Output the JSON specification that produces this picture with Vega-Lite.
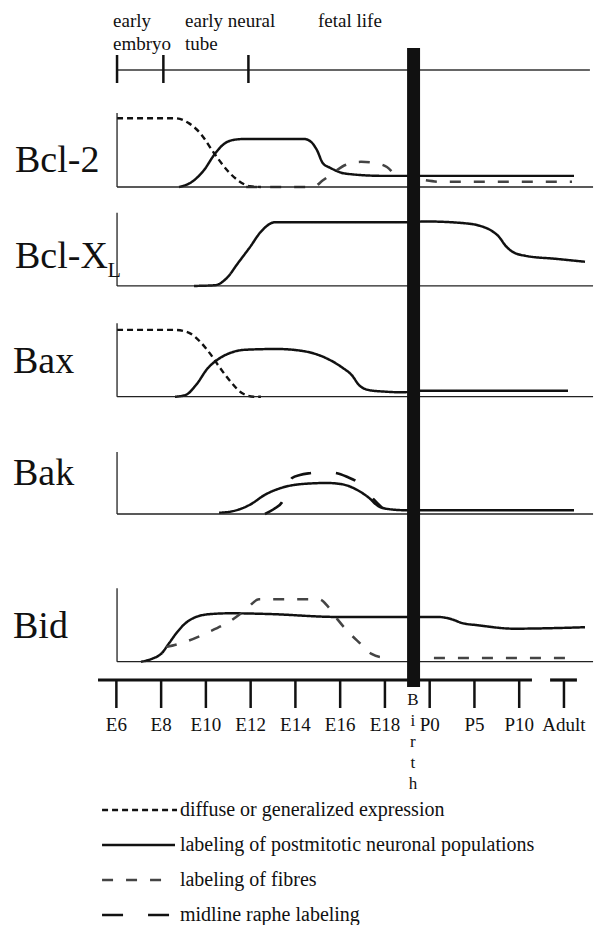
{
  "$schema": "https://vega.github.io/schema/vega-lite/v6.json",
  "background": "white",
  "padding": 0,
  "spacing": 0,
  "bounds": "flush",
  "resolve": {"scale": {"x": "independent", "y": "independent"}},
  "config": {
    "view": {"stroke": null},
    "text": {"font": "Liberation Serif", "color": "#111"},
    "rule": {"color": "#111"},
    "rect": {"color": "#111"}
  },
  "datasets": {
    "curves": [
      {"gene":"Bcl-2","series":"b2d","style":"diffuse","t":6.03,"level":0.93},
      {"gene":"Bcl-2","series":"b2d","style":"diffuse","t":8.62,"level":0.93},
      {"gene":"Bcl-2","series":"b2d","style":"diffuse","t":9.25,"level":0.86},
      {"gene":"Bcl-2","series":"b2d","style":"diffuse","t":9.74,"level":0.73},
      {"gene":"Bcl-2","series":"b2d","style":"diffuse","t":10.36,"level":0.46},
      {"gene":"Bcl-2","series":"b2d","style":"diffuse","t":10.94,"level":0.23},
      {"gene":"Bcl-2","series":"b2d","style":"diffuse","t":11.43,"level":0.09},
      {"gene":"Bcl-2","series":"b2d","style":"diffuse","t":11.97,"level":0.01},
      {"gene":"Bcl-2","series":"b2d","style":"diffuse","t":12.46,"level":0},
      {"gene":"Bcl-2","series":"b2s","style":"postmitotic","t":8.8,"level":0},
      {"gene":"Bcl-2","series":"b2s","style":"postmitotic","t":9.38,"level":0.07},
      {"gene":"Bcl-2","series":"b2s","style":"postmitotic","t":9.92,"level":0.23},
      {"gene":"Bcl-2","series":"b2s","style":"postmitotic","t":10.36,"level":0.43},
      {"gene":"Bcl-2","series":"b2s","style":"postmitotic","t":10.76,"level":0.57},
      {"gene":"Bcl-2","series":"b2s","style":"postmitotic","t":11.3,"level":0.64},
      {"gene":"Bcl-2","series":"b2s","style":"postmitotic","t":11.79,"level":0.65},
      {"gene":"Bcl-2","series":"b2s","style":"postmitotic","t":14.38,"level":0.65},
      {"gene":"Bcl-2","series":"b2s","style":"postmitotic","t":14.7,"level":0.61},
      {"gene":"Bcl-2","series":"b2s","style":"postmitotic","t":14.96,"level":0.5},
      {"gene":"Bcl-2","series":"b2s","style":"postmitotic","t":15.23,"level":0.32},
      {"gene":"Bcl-2","series":"b2s","style":"postmitotic","t":15.55,"level":0.26},
      {"gene":"Bcl-2","series":"b2s","style":"postmitotic","t":16.26,"level":0.18},
      {"gene":"Bcl-2","series":"b2s","style":"postmitotic","t":17.96,"level":0.15},
      {"gene":"Bcl-2","series":"b2s","style":"postmitotic","t":26.45,"level":0.15},
      {"gene":"Bcl-2","series":"b2f1","style":"fibres","t":11.8,"level":0},
      {"gene":"Bcl-2","series":"b2f1","style":"fibres","t":14.79,"level":0},
      {"gene":"Bcl-2","series":"b2f1","style":"fibres","t":15.23,"level":0.09},
      {"gene":"Bcl-2","series":"b2f1","style":"fibres","t":15.72,"level":0.2},
      {"gene":"Bcl-2","series":"b2f1","style":"fibres","t":16.26,"level":0.3},
      {"gene":"Bcl-2","series":"b2f1","style":"fibres","t":16.93,"level":0.34},
      {"gene":"Bcl-2","series":"b2f1","style":"fibres","t":17.6,"level":0.32},
      {"gene":"Bcl-2","series":"b2f1","style":"fibres","t":18.09,"level":0.27},
      {"gene":"Bcl-2","series":"b2f1","style":"fibres","t":18.36,"level":0.19},
      {"gene":"Bcl-2","series":"b2f2","style":"fibres","t":19.83,"level":0.09},
      {"gene":"Bcl-2","series":"b2f2","style":"fibres","t":20.5,"level":0.07},
      {"gene":"Bcl-2","series":"b2f2","style":"fibres","t":26.36,"level":0.07},

      {"gene":"Bcl-XL","series":"bxs","style":"postmitotic","t":9.47,"level":0},
      {"gene":"Bcl-XL","series":"bxs","style":"postmitotic","t":10.41,"level":0.01},
      {"gene":"Bcl-XL","series":"bxs","style":"postmitotic","t":10.94,"level":0.11},
      {"gene":"Bcl-XL","series":"bxs","style":"postmitotic","t":11.43,"level":0.31},
      {"gene":"Bcl-XL","series":"bxs","style":"postmitotic","t":11.97,"level":0.53},
      {"gene":"Bcl-XL","series":"bxs","style":"postmitotic","t":12.46,"level":0.74},
      {"gene":"Bcl-XL","series":"bxs","style":"postmitotic","t":13.09,"level":0.87},
      {"gene":"Bcl-XL","series":"bxs","style":"postmitotic","t":13.67,"level":0.87},
      {"gene":"Bcl-XL","series":"bxs","style":"postmitotic","t":18.99,"level":0.87},
      {"gene":"Bcl-XL","series":"bxs","style":"postmitotic","t":19.83,"level":0.88},
      {"gene":"Bcl-XL","series":"bxs","style":"postmitotic","t":21.4,"level":0.86},
      {"gene":"Bcl-XL","series":"bxs","style":"postmitotic","t":22.25,"level":0.82},
      {"gene":"Bcl-XL","series":"bxs","style":"postmitotic","t":22.83,"level":0.74},
      {"gene":"Bcl-XL","series":"bxs","style":"postmitotic","t":23.1,"level":0.67},
      {"gene":"Bcl-XL","series":"bxs","style":"postmitotic","t":23.36,"level":0.56},
      {"gene":"Bcl-XL","series":"bxs","style":"postmitotic","t":23.68,"level":0.47},
      {"gene":"Bcl-XL","series":"bxs","style":"postmitotic","t":24.3,"level":0.41},
      {"gene":"Bcl-XL","series":"bxs","style":"postmitotic","t":25.64,"level":0.37},
      {"gene":"Bcl-XL","series":"bxs","style":"postmitotic","t":26.94,"level":0.33},

      {"gene":"Bax","series":"bad","style":"diffuse","t":6.03,"level":0.91},
      {"gene":"Bax","series":"bad","style":"diffuse","t":8.62,"level":0.91},
      {"gene":"Bax","series":"bad","style":"diffuse","t":9.25,"level":0.87},
      {"gene":"Bax","series":"bad","style":"diffuse","t":9.74,"level":0.75},
      {"gene":"Bax","series":"bad","style":"diffuse","t":10.18,"level":0.59},
      {"gene":"Bax","series":"bad","style":"diffuse","t":10.59,"level":0.41},
      {"gene":"Bax","series":"bad","style":"diffuse","t":11.12,"level":0.2},
      {"gene":"Bax","series":"bad","style":"diffuse","t":11.61,"level":0.05},
      {"gene":"Bax","series":"bad","style":"diffuse","t":12.15,"level":0},
      {"gene":"Bax","series":"bad","style":"diffuse","t":12.46,"level":0},
      {"gene":"Bax","series":"bas","style":"postmitotic","t":8.62,"level":0},
      {"gene":"Bax","series":"bas","style":"postmitotic","t":9.07,"level":0.02},
      {"gene":"Bax","series":"bas","style":"postmitotic","t":9.56,"level":0.16},
      {"gene":"Bax","series":"bas","style":"postmitotic","t":10.09,"level":0.39},
      {"gene":"Bax","series":"bas","style":"postmitotic","t":10.5,"level":0.5},
      {"gene":"Bax","series":"bas","style":"postmitotic","t":11.12,"level":0.6},
      {"gene":"Bax","series":"bas","style":"postmitotic","t":11.79,"level":0.64},
      {"gene":"Bax","series":"bas","style":"postmitotic","t":13.18,"level":0.65},
      {"gene":"Bax","series":"bas","style":"postmitotic","t":14.38,"level":0.62},
      {"gene":"Bax","series":"bas","style":"postmitotic","t":15.41,"level":0.52},
      {"gene":"Bax","series":"bas","style":"postmitotic","t":16.08,"level":0.4},
      {"gene":"Bax","series":"bas","style":"postmitotic","t":16.53,"level":0.29},
      {"gene":"Bax","series":"bas","style":"postmitotic","t":16.84,"level":0.16},
      {"gene":"Bax","series":"bas","style":"postmitotic","t":17.29,"level":0.09},
      {"gene":"Bax","series":"bas","style":"postmitotic","t":17.96,"level":0.07},
      {"gene":"Bax","series":"bas","style":"postmitotic","t":18.81,"level":0.06},
      {"gene":"Bax","series":"bas","style":"postmitotic","t":19.57,"level":0.08},
      {"gene":"Bax","series":"bas","style":"postmitotic","t":26.18,"level":0.08},

      {"gene":"Bak","series":"bks","style":"postmitotic","t":10.59,"level":0.02},
      {"gene":"Bak","series":"bks","style":"postmitotic","t":11.26,"level":0.05},
      {"gene":"Bak","series":"bks","style":"postmitotic","t":11.97,"level":0.15},
      {"gene":"Bak","series":"bks","style":"postmitotic","t":12.64,"level":0.31},
      {"gene":"Bak","series":"bks","style":"postmitotic","t":13.36,"level":0.42},
      {"gene":"Bak","series":"bks","style":"postmitotic","t":14.2,"level":0.48},
      {"gene":"Bak","series":"bks","style":"postmitotic","t":15.41,"level":0.5},
      {"gene":"Bak","series":"bks","style":"postmitotic","t":16.08,"level":0.48},
      {"gene":"Bak","series":"bks","style":"postmitotic","t":16.75,"level":0.39},
      {"gene":"Bak","series":"bks","style":"postmitotic","t":17.29,"level":0.26},
      {"gene":"Bak","series":"bks","style":"postmitotic","t":17.69,"level":0.13},
      {"gene":"Bak","series":"bks","style":"postmitotic","t":18.14,"level":0.08},
      {"gene":"Bak","series":"bks","style":"postmitotic","t":18.99,"level":0.06},
      {"gene":"Bak","series":"bks","style":"postmitotic","t":26.45,"level":0.06},
      {"gene":"Bak","series":"bkr","style":"raphe","t":12.64,"level":0},
      {"gene":"Bak","series":"bkr","style":"raphe","t":13.04,"level":0.08},
      {"gene":"Bak","series":"bkr","style":"raphe","t":13.4,"level":0.19},
      {"gene":"Bak","series":"bkr","style":"raphe","t":13.62,"level":0.39},
      {"gene":"Bak","series":"bkr","style":"raphe","t":13.85,"level":0.58},
      {"gene":"Bak","series":"bkr","style":"raphe","t":14.2,"level":0.63},
      {"gene":"Bak","series":"bkr","style":"raphe","t":14.7,"level":0.66},
      {"gene":"Bak","series":"bkr","style":"raphe","t":15.23,"level":0.68},
      {"gene":"Bak","series":"bkr","style":"raphe","t":15.81,"level":0.66},
      {"gene":"Bak","series":"bkr","style":"raphe","t":16.3,"level":0.6},
      {"gene":"Bak","series":"bkr","style":"raphe","t":16.75,"level":0.52},
      {"gene":"Bak","series":"bkr","style":"raphe","t":17.15,"level":0.39},
      {"gene":"Bak","series":"bkr","style":"raphe","t":17.51,"level":0.23},
      {"gene":"Bak","series":"bkr","style":"raphe","t":17.87,"level":0.1},

      {"gene":"Bid","series":"bds","style":"postmitotic","t":7.1,"level":0},
      {"gene":"Bid","series":"bds","style":"postmitotic","t":7.59,"level":0.04},
      {"gene":"Bid","series":"bds","style":"postmitotic","t":8.04,"level":0.12},
      {"gene":"Bid","series":"bds","style":"postmitotic","t":8.35,"level":0.25},
      {"gene":"Bid","series":"bds","style":"postmitotic","t":8.71,"level":0.4},
      {"gene":"Bid","series":"bds","style":"postmitotic","t":9.07,"level":0.52},
      {"gene":"Bid","series":"bds","style":"postmitotic","t":9.56,"level":0.61},
      {"gene":"Bid","series":"bds","style":"postmitotic","t":10.23,"level":0.65},
      {"gene":"Bid","series":"bds","style":"postmitotic","t":11.12,"level":0.66},
      {"gene":"Bid","series":"bds","style":"postmitotic","t":12.82,"level":0.65},
      {"gene":"Bid","series":"bds","style":"postmitotic","t":15.9,"level":0.61},
      {"gene":"Bid","series":"bds","style":"postmitotic","t":18.99,"level":0.61},
      {"gene":"Bid","series":"bds","style":"postmitotic","t":20.37,"level":0.61},
      {"gene":"Bid","series":"bds","style":"postmitotic","t":20.86,"level":0.59},
      {"gene":"Bid","series":"bds","style":"postmitotic","t":21.53,"level":0.52},
      {"gene":"Bid","series":"bds","style":"postmitotic","t":22.07,"level":0.5},
      {"gene":"Bid","series":"bds","style":"postmitotic","t":23.77,"level":0.45},
      {"gene":"Bid","series":"bds","style":"postmitotic","t":25.82,"level":0.46},
      {"gene":"Bid","series":"bds","style":"postmitotic","t":26.94,"level":0.47},
      {"gene":"Bid","series":"bdf1","style":"fibres","t":8.22,"level":0.2},
      {"gene":"Bid","series":"bdf1","style":"fibres","t":9.07,"level":0.27},
      {"gene":"Bid","series":"bdf1","style":"fibres","t":10.09,"level":0.4},
      {"gene":"Bid","series":"bdf1","style":"fibres","t":11.12,"level":0.56},
      {"gene":"Bid","series":"bdf1","style":"fibres","t":11.79,"level":0.71},
      {"gene":"Bid","series":"bdf1","style":"fibres","t":12.37,"level":0.85},
      {"gene":"Bid","series":"bdf1","style":"fibres","t":15.05,"level":0.85},
      {"gene":"Bid","series":"bdf1","style":"fibres","t":15.46,"level":0.75},
      {"gene":"Bid","series":"bdf1","style":"fibres","t":15.9,"level":0.57},
      {"gene":"Bid","series":"bdf1","style":"fibres","t":16.35,"level":0.41},
      {"gene":"Bid","series":"bdf1","style":"fibres","t":16.89,"level":0.25},
      {"gene":"Bid","series":"bdf1","style":"fibres","t":17.38,"level":0.11},
      {"gene":"Bid","series":"bdf1","style":"fibres","t":17.96,"level":0.06},
      {"gene":"Bid","series":"bdf1","style":"fibres","t":18.32,"level":0.06},
      {"gene":"Bid","series":"bdf2","style":"fibres","t":20.19,"level":0.05},
      {"gene":"Bid","series":"bdf2","style":"fibres","t":26.54,"level":0.05}
    ],
    "ticks": [
      {"t":6,"label":"E6"},{"t":8,"label":"E8"},{"t":10,"label":"E10"},{"t":12,"label":"E12"},
      {"t":14,"label":"E14"},{"t":16,"label":"E16"},{"t":18,"label":"E18"},
      {"t":20,"label":"P0"},{"t":22,"label":"P5"},{"t":24,"label":"P10"},{"t":26,"label":"Adult"}
    ],
    "legend": [
      {"style":"diffuse","label":"diffuse or generalized expression","t0":5.36,"t1":8.71},
      {"style":"postmitotic","label":"labeling of postmitotic neuronal populations","t0":5.36,"t1":8.62},
      {"style":"fibres","label":"labeling of fibres","t0":5.36,"t1":8.26},
      {"style":"raphe","label":"midline raphe labeling","t0":5.36,"t1":8.4}
    ]
  },
  "vconcat": [
    {
      "width": 602, "height": 100,
      "layer": [
        {"data": {"values": [{"t0": 6.03, "t1": 27.16}]},
         "mark": {"type": "rule", "strokeWidth": 1.3, "color": "#333"},
         "encoding": {
           "x": {"field": "t0", "type": "quantitative", "scale": {"domain": [0.8, 27.7], "nice": false, "zero": false}, "axis": null},
           "x2": {"field": "t1"},
           "y": {"datum": 70, "type": "quantitative", "scale": {"domain": [0, 100], "reverse": true, "nice": false, "zero": false}, "axis": null}}},
        {"data": {"values": [{"t": 6.03}, {"t": 8.1}, {"t": 11.9}]},
         "mark": {"type": "rule", "strokeWidth": 2.5},
         "encoding": {
           "x": {"field": "t", "type": "quantitative", "scale": {"domain": [0.8, 27.7], "nice": false, "zero": false}, "axis": null},
           "y": {"datum": 55, "type": "quantitative", "scale": {"domain": [0, 100], "reverse": true, "nice": false, "zero": false}, "axis": null},
           "y2": {"datum": 83}}},
        {"data": {"values": [{"t": 5.85, "text": "early"}, {"t": 9.07, "text": "early neural"}, {"t": 15.01, "text": "fetal life"}]},
         "mark": {"type": "text", "fontSize": 19, "align": "left", "baseline": "alphabetic"},
         "encoding": {
           "x": {"field": "t", "type": "quantitative", "scale": {"domain": [0.8, 27.7], "nice": false, "zero": false}, "axis": null},
           "y": {"datum": 27, "type": "quantitative", "scale": {"domain": [0, 100], "reverse": true, "nice": false, "zero": false}, "axis": null},
           "text": {"field": "text"}}},
        {"data": {"values": [{"t": 5.85, "text": "embryo"}, {"t": 9.07, "text": "tube"}]},
         "mark": {"type": "text", "fontSize": 19, "align": "left", "baseline": "alphabetic"},
         "encoding": {
           "x": {"field": "t", "type": "quantitative", "scale": {"domain": [0.8, 27.7], "nice": false, "zero": false}, "axis": null},
           "y": {"datum": 50, "type": "quantitative", "scale": {"domain": [0, 100], "reverse": true, "nice": false, "zero": false}, "axis": null},
           "text": {"field": "text"}}},
        {"data": {"values": [{"t0": 18.99, "t1": 19.57}]},
         "mark": {"type": "rect", "color": "#111"},
         "encoding": {
           "x": {"field": "t0", "type": "quantitative", "scale": {"domain": [0.8, 27.7], "nice": false, "zero": false}, "axis": null},
           "x2": {"field": "t1"},
           "y": {"datum": 48, "type": "quantitative", "scale": {"domain": [0, 100], "reverse": true, "nice": false, "zero": false}, "axis": null},
           "y2": {"datum": 100}}}
      ]
    },
    {
      "width": 602, "height": 100,
      "layer": [
        {"data": {"name": "curves"}, "transform": [{"filter": "datum.gene === 'Bcl-2'"}],
         "mark": {"type": "line", "interpolate": "monotone"},
         "encoding": {
           "x": {"field": "t", "type": "quantitative", "scale": {"domain": [0.8, 27.7], "nice": false, "zero": false}, "axis": null},
           "y": {"field": "level", "type": "quantitative", "scale": {"domain": [-0.176, 1.176], "nice": false, "zero": false}, "axis": null},
           "detail": {"field": "series"},
           "strokeDash": {"field": "style", "type": "nominal", "scale": {"domain": ["diffuse", "postmitotic", "fibres", "raphe"], "range": [[6, 4], [1, 0], [11, 13], [21, 25]]}, "legend": null},
           "strokeWidth": {"field": "style", "type": "ordinal", "scale": {"domain": ["diffuse", "postmitotic", "fibres", "raphe"], "range": [2.4, 2.6, 1.4, 2.8]}, "legend": null},
           "color": {"field": "style", "type": "nominal", "scale": {"domain": ["diffuse", "postmitotic", "fibres", "raphe"], "range": ["#111", "#111", "#444", "#111"]}, "legend": null}}},
        {"data": {"values": [{"t": 6.03, "l0": 0, "l1": 1}]},
         "mark": {"type": "rule", "strokeWidth": 1.3, "color": "#222"},
         "encoding": {
           "x": {"field": "t", "type": "quantitative", "scale": {"domain": [0.8, 27.7], "nice": false, "zero": false}, "axis": null},
           "y": {"field": "l0", "type": "quantitative", "scale": {"domain": [-0.176, 1.176], "nice": false, "zero": false}, "axis": null},
           "y2": {"field": "l1"}}},
        {"data": {"values": [{"t0": 6.03, "t1": 27.3, "l": 0}]},
         "mark": {"type": "rule", "strokeWidth": 1.3, "color": "#222"},
         "encoding": {
           "x": {"field": "t0", "type": "quantitative", "scale": {"domain": [0.8, 27.7], "nice": false, "zero": false}, "axis": null},
           "x2": {"field": "t1"},
           "y": {"field": "l", "type": "quantitative", "scale": {"domain": [-0.176, 1.176], "nice": false, "zero": false}, "axis": null}}},
        {"data": {"values": [{"t0": 18.99, "t1": 19.57}]},
         "mark": {"type": "rect", "color": "#111"},
         "encoding": {
           "x": {"field": "t0", "type": "quantitative", "scale": {"domain": [0.8, 27.7], "nice": false, "zero": false}, "axis": null},
           "x2": {"field": "t1"},
           "y": {"datum": -0.176, "type": "quantitative", "scale": {"domain": [-0.176, 1.176], "nice": false, "zero": false}, "axis": null},
           "y2": {"datum": 1.176}}},
        {"data": {"values": [{"t": 1.47, "l": 0.2, "name": "Bcl-2"}]},
         "mark": {"type": "text", "fontSize": 38, "align": "left", "baseline": "alphabetic"},
         "encoding": {
           "x": {"field": "t", "type": "quantitative", "scale": {"domain": [0.8, 27.7], "nice": false, "zero": false}, "axis": null},
           "y": {"field": "l", "type": "quantitative", "scale": {"domain": [-0.176, 1.176], "nice": false, "zero": false}, "axis": null},
           "text": {"field": "name"}}}
      ]
    },
    {
      "width": 602, "height": 105,
      "layer": [
        {"data": {"name": "curves"}, "transform": [{"filter": "datum.gene === 'Bcl-XL'"}],
         "mark": {"type": "line", "interpolate": "monotone"},
         "encoding": {
           "x": {"field": "t", "type": "quantitative", "scale": {"domain": [0.8, 27.7], "nice": false, "zero": false}, "axis": null},
           "y": {"field": "level", "type": "quantitative", "scale": {"domain": [-0.26, 1.173], "nice": false, "zero": false}, "axis": null},
           "detail": {"field": "series"},
           "strokeDash": {"field": "style", "type": "nominal", "scale": {"domain": ["diffuse", "postmitotic", "fibres", "raphe"], "range": [[6, 4], [1, 0], [11, 13], [21, 25]]}, "legend": null},
           "strokeWidth": {"field": "style", "type": "ordinal", "scale": {"domain": ["diffuse", "postmitotic", "fibres", "raphe"], "range": [2.4, 2.6, 1.4, 2.8]}, "legend": null},
           "color": {"field": "style", "type": "nominal", "scale": {"domain": ["diffuse", "postmitotic", "fibres", "raphe"], "range": ["#111", "#111", "#444", "#111"]}, "legend": null}}},
        {"data": {"values": [{"t": 6.03, "l0": 0, "l1": 1}]},
         "mark": {"type": "rule", "strokeWidth": 1.3, "color": "#222"},
         "encoding": {
           "x": {"field": "t", "type": "quantitative", "scale": {"domain": [0.8, 27.7], "nice": false, "zero": false}, "axis": null},
           "y": {"field": "l0", "type": "quantitative", "scale": {"domain": [-0.26, 1.173], "nice": false, "zero": false}, "axis": null},
           "y2": {"field": "l1"}}},
        {"data": {"values": [{"t0": 6.03, "t1": 27.3, "l": 0}]},
         "mark": {"type": "rule", "strokeWidth": 1.3, "color": "#222"},
         "encoding": {
           "x": {"field": "t0", "type": "quantitative", "scale": {"domain": [0.8, 27.7], "nice": false, "zero": false}, "axis": null},
           "x2": {"field": "t1"},
           "y": {"field": "l", "type": "quantitative", "scale": {"domain": [-0.26, 1.173], "nice": false, "zero": false}, "axis": null}}},
        {"data": {"values": [{"t0": 18.99, "t1": 19.57}]},
         "mark": {"type": "rect", "color": "#111"},
         "encoding": {
           "x": {"field": "t0", "type": "quantitative", "scale": {"domain": [0.8, 27.7], "nice": false, "zero": false}, "axis": null},
           "x2": {"field": "t1"},
           "y": {"datum": -0.26, "type": "quantitative", "scale": {"domain": [-0.26, 1.173], "nice": false, "zero": false}, "axis": null},
           "y2": {"datum": 1.173}}},
        {"data": {"values": [{"t": 1.47, "l": 0.25, "name": "Bcl-X"}]},
         "mark": {"type": "text", "fontSize": 38, "align": "left", "baseline": "alphabetic"},
         "encoding": {
           "x": {"field": "t", "type": "quantitative", "scale": {"domain": [0.8, 27.7], "nice": false, "zero": false}, "axis": null},
           "y": {"field": "l", "type": "quantitative", "scale": {"domain": [-0.26, 1.173], "nice": false, "zero": false}, "axis": null},
           "text": {"field": "name"}}},
        {"data": {"values": [{"t": 5.6, "l": 0.12, "name": "L"}]},
         "mark": {"type": "text", "fontSize": 22, "align": "left", "baseline": "alphabetic"},
         "encoding": {
           "x": {"field": "t", "type": "quantitative", "scale": {"domain": [0.8, 27.7], "nice": false, "zero": false}, "axis": null},
           "y": {"field": "l", "type": "quantitative", "scale": {"domain": [-0.26, 1.173], "nice": false, "zero": false}, "axis": null},
           "text": {"field": "name"}}}
      ]
    },
    {
      "width": 602, "height": 115,
      "layer": [
        {"data": {"name": "curves"}, "transform": [{"filter": "datum.gene === 'Bax'"}],
         "mark": {"type": "line", "interpolate": "monotone"},
         "encoding": {
           "x": {"field": "t", "type": "quantitative", "scale": {"domain": [0.8, 27.7], "nice": false, "zero": false}, "axis": null},
           "y": {"field": "level", "type": "quantitative", "scale": {"domain": [-0.317, 1.249], "nice": false, "zero": false}, "axis": null},
           "detail": {"field": "series"},
           "strokeDash": {"field": "style", "type": "nominal", "scale": {"domain": ["diffuse", "postmitotic", "fibres", "raphe"], "range": [[6, 4], [1, 0], [11, 13], [21, 25]]}, "legend": null},
           "strokeWidth": {"field": "style", "type": "ordinal", "scale": {"domain": ["diffuse", "postmitotic", "fibres", "raphe"], "range": [2.4, 2.6, 1.4, 2.8]}, "legend": null},
           "color": {"field": "style", "type": "nominal", "scale": {"domain": ["diffuse", "postmitotic", "fibres", "raphe"], "range": ["#111", "#111", "#444", "#111"]}, "legend": null}}},
        {"data": {"values": [{"t": 6.03, "l0": 0, "l1": 1}]},
         "mark": {"type": "rule", "strokeWidth": 1.3, "color": "#222"},
         "encoding": {
           "x": {"field": "t", "type": "quantitative", "scale": {"domain": [0.8, 27.7], "nice": false, "zero": false}, "axis": null},
           "y": {"field": "l0", "type": "quantitative", "scale": {"domain": [-0.317, 1.249], "nice": false, "zero": false}, "axis": null},
           "y2": {"field": "l1"}}},
        {"data": {"values": [{"t0": 6.03, "t1": 27.3, "l": 0}]},
         "mark": {"type": "rule", "strokeWidth": 1.3, "color": "#222"},
         "encoding": {
           "x": {"field": "t0", "type": "quantitative", "scale": {"domain": [0.8, 27.7], "nice": false, "zero": false}, "axis": null},
           "x2": {"field": "t1"},
           "y": {"field": "l", "type": "quantitative", "scale": {"domain": [-0.317, 1.249], "nice": false, "zero": false}, "axis": null}}},
        {"data": {"values": [{"t0": 18.99, "t1": 19.57}]},
         "mark": {"type": "rect", "color": "#111"},
         "encoding": {
           "x": {"field": "t0", "type": "quantitative", "scale": {"domain": [0.8, 27.7], "nice": false, "zero": false}, "axis": null},
           "x2": {"field": "t1"},
           "y": {"datum": -0.317, "type": "quantitative", "scale": {"domain": [-0.317, 1.249], "nice": false, "zero": false}, "axis": null},
           "y2": {"datum": 1.249}}},
        {"data": {"values": [{"t": 1.38, "l": 0.32, "name": "Bax"}]},
         "mark": {"type": "text", "fontSize": 38, "align": "left", "baseline": "alphabetic"},
         "encoding": {
           "x": {"field": "t", "type": "quantitative", "scale": {"domain": [0.8, 27.7], "nice": false, "zero": false}, "axis": null},
           "y": {"field": "l", "type": "quantitative", "scale": {"domain": [-0.317, 1.249], "nice": false, "zero": false}, "axis": null},
           "text": {"field": "name"}}}
      ]
    },
    {
      "width": 602, "height": 140,
      "layer": [
        {"data": {"name": "curves"}, "transform": [{"filter": "datum.gene === 'Bak'"}],
         "mark": {"type": "line", "interpolate": "monotone"},
         "encoding": {
           "x": {"field": "t", "type": "quantitative", "scale": {"domain": [0.8, 27.7], "nice": false, "zero": false}, "axis": null},
           "y": {"field": "level", "type": "quantitative", "scale": {"domain": [-0.742, 1.516], "nice": false, "zero": false}, "axis": null},
           "detail": {"field": "series"},
           "strokeDash": {"field": "style", "type": "nominal", "scale": {"domain": ["diffuse", "postmitotic", "fibres", "raphe"], "range": [[6, 4], [1, 0], [11, 13], [21, 25]]}, "legend": null},
           "strokeWidth": {"field": "style", "type": "ordinal", "scale": {"domain": ["diffuse", "postmitotic", "fibres", "raphe"], "range": [2.4, 2.6, 1.4, 2.8]}, "legend": null},
           "color": {"field": "style", "type": "nominal", "scale": {"domain": ["diffuse", "postmitotic", "fibres", "raphe"], "range": ["#111", "#111", "#444", "#111"]}, "legend": null}}},
        {"data": {"values": [{"t": 6.03, "l0": 0, "l1": 1}]},
         "mark": {"type": "rule", "strokeWidth": 1.3, "color": "#222"},
         "encoding": {
           "x": {"field": "t", "type": "quantitative", "scale": {"domain": [0.8, 27.7], "nice": false, "zero": false}, "axis": null},
           "y": {"field": "l0", "type": "quantitative", "scale": {"domain": [-0.742, 1.516], "nice": false, "zero": false}, "axis": null},
           "y2": {"field": "l1"}}},
        {"data": {"values": [{"t0": 6.03, "t1": 27.3, "l": 0}]},
         "mark": {"type": "rule", "strokeWidth": 1.3, "color": "#222"},
         "encoding": {
           "x": {"field": "t0", "type": "quantitative", "scale": {"domain": [0.8, 27.7], "nice": false, "zero": false}, "axis": null},
           "x2": {"field": "t1"},
           "y": {"field": "l", "type": "quantitative", "scale": {"domain": [-0.742, 1.516], "nice": false, "zero": false}, "axis": null}}},
        {"data": {"values": [{"t0": 18.99, "t1": 19.57}]},
         "mark": {"type": "rect", "color": "#111"},
         "encoding": {
           "x": {"field": "t0", "type": "quantitative", "scale": {"domain": [0.8, 27.7], "nice": false, "zero": false}, "axis": null},
           "x2": {"field": "t1"},
           "y": {"datum": -0.742, "type": "quantitative", "scale": {"domain": [-0.742, 1.516], "nice": false, "zero": false}, "axis": null},
           "y2": {"datum": 1.516}}},
        {"data": {"values": [{"t": 1.38, "l": 0.47, "name": "Bak"}]},
         "mark": {"type": "text", "fontSize": 38, "align": "left", "baseline": "alphabetic"},
         "encoding": {
           "x": {"field": "t", "type": "quantitative", "scale": {"domain": [0.8, 27.7], "nice": false, "zero": false}, "axis": null},
           "y": {"field": "l", "type": "quantitative", "scale": {"domain": [-0.742, 1.516], "nice": false, "zero": false}, "axis": null},
           "text": {"field": "name"}}}
      ]
    },
    {
      "width": 602, "height": 112,
      "layer": [
        {"data": {"name": "curves"}, "transform": [{"filter": "datum.gene === 'Bid'"}],
         "mark": {"type": "line", "interpolate": "monotone"},
         "encoding": {
           "x": {"field": "t", "type": "quantitative", "scale": {"domain": [0.8, 27.7], "nice": false, "zero": false}, "axis": null},
           "y": {"field": "level", "type": "quantitative", "scale": {"domain": [-0.14, 1.386], "nice": false, "zero": false}, "axis": null},
           "detail": {"field": "series"},
           "strokeDash": {"field": "style", "type": "nominal", "scale": {"domain": ["diffuse", "postmitotic", "fibres", "raphe"], "range": [[6, 4], [1, 0], [11, 13], [21, 25]]}, "legend": null},
           "strokeWidth": {"field": "style", "type": "ordinal", "scale": {"domain": ["diffuse", "postmitotic", "fibres", "raphe"], "range": [2.4, 2.6, 1.4, 2.8]}, "legend": null},
           "color": {"field": "style", "type": "nominal", "scale": {"domain": ["diffuse", "postmitotic", "fibres", "raphe"], "range": ["#111", "#111", "#444", "#111"]}, "legend": null}}},
        {"data": {"values": [{"t": 6.03, "l0": 0, "l1": 1}]},
         "mark": {"type": "rule", "strokeWidth": 1.3, "color": "#222"},
         "encoding": {
           "x": {"field": "t", "type": "quantitative", "scale": {"domain": [0.8, 27.7], "nice": false, "zero": false}, "axis": null},
           "y": {"field": "l0", "type": "quantitative", "scale": {"domain": [-0.14, 1.386], "nice": false, "zero": false}, "axis": null},
           "y2": {"field": "l1"}}},
        {"data": {"values": [{"t0": 6.03, "t1": 27.3, "l": 0}]},
         "mark": {"type": "rule", "strokeWidth": 1.3, "color": "#222"},
         "encoding": {
           "x": {"field": "t0", "type": "quantitative", "scale": {"domain": [0.8, 27.7], "nice": false, "zero": false}, "axis": null},
           "x2": {"field": "t1"},
           "y": {"field": "l", "type": "quantitative", "scale": {"domain": [-0.14, 1.386], "nice": false, "zero": false}, "axis": null}}},
        {"data": {"values": [{"t0": 18.99, "t1": 19.57}]},
         "mark": {"type": "rect", "color": "#111"},
         "encoding": {
           "x": {"field": "t0", "type": "quantitative", "scale": {"domain": [0.8, 27.7], "nice": false, "zero": false}, "axis": null},
           "x2": {"field": "t1"},
           "y": {"datum": -0.14, "type": "quantitative", "scale": {"domain": [-0.14, 1.386], "nice": false, "zero": false}, "axis": null},
           "y2": {"datum": 1.386}}},
        {"data": {"values": [{"t": 1.38, "l": 0.32, "name": "Bid"}]},
         "mark": {"type": "text", "fontSize": 38, "align": "left", "baseline": "alphabetic"},
         "encoding": {
           "x": {"field": "t", "type": "quantitative", "scale": {"domain": [0.8, 27.7], "nice": false, "zero": false}, "axis": null},
           "y": {"field": "l", "type": "quantitative", "scale": {"domain": [-0.14, 1.386], "nice": false, "zero": false}, "axis": null},
           "text": {"field": "name"}}}
      ]
    },
    {
      "width": 602, "height": 128,
      "layer": [
        {"data": {"values": [{"t0": 5.18, "t1": 24.57}, {"t0": 25.38, "t1": 26.58}]},
         "mark": {"type": "rule", "strokeWidth": 3.2},
         "encoding": {
           "x": {"field": "t0", "type": "quantitative", "scale": {"domain": [0.8, 27.7], "nice": false, "zero": false}, "axis": null},
           "x2": {"field": "t1"},
           "y": {"datum": 0, "type": "quantitative", "scale": {"domain": [-8, 120], "reverse": true, "nice": false, "zero": false}, "axis": null}}},
        {"data": {"name": "ticks"},
         "mark": {"type": "rule", "strokeWidth": 2.5},
         "encoding": {
           "x": {"field": "t", "type": "quantitative", "scale": {"domain": [0.8, 27.7], "nice": false, "zero": false}, "axis": null},
           "y": {"datum": 0, "type": "quantitative", "scale": {"domain": [-8, 120], "reverse": true, "nice": false, "zero": false}, "axis": null},
           "y2": {"datum": 28}}},
        {"data": {"name": "ticks"},
         "mark": {"type": "text", "fontSize": 19, "align": "center", "baseline": "middle"},
         "encoding": {
           "x": {"field": "t", "type": "quantitative", "scale": {"domain": [0.8, 27.7], "nice": false, "zero": false}, "axis": null},
           "y": {"datum": 45, "type": "quantitative", "scale": {"domain": [-8, 120], "reverse": true, "nice": false, "zero": false}, "axis": null},
           "text": {"field": "label"}}},
        {"data": {"values": [{"t0": 18.99, "t1": 19.57}]},
         "mark": {"type": "rect", "color": "#111"},
         "encoding": {
           "x": {"field": "t0", "type": "quantitative", "scale": {"domain": [0.8, 27.7], "nice": false, "zero": false}, "axis": null},
           "x2": {"field": "t1"},
           "y": {"datum": -8, "type": "quantitative", "scale": {"domain": [-8, 120], "reverse": true, "nice": false, "zero": false}, "axis": null},
           "y2": {"datum": 7}}},
        {"data": {"values": [{"t": 19.25, "text": "B\ni\nr\nt\nh"}]},
         "mark": {"type": "text", "fontSize": 17, "align": "center", "baseline": "top", "lineBreak": "\n", "lineHeight": 21},
         "encoding": {
           "x": {"field": "t", "type": "quantitative", "scale": {"domain": [0.8, 27.7], "nice": false, "zero": false}, "axis": null},
           "y": {"datum": 12, "type": "quantitative", "scale": {"domain": [-8, 120], "reverse": true, "nice": false, "zero": false}, "axis": null},
           "text": {"field": "text"}}}
      ]
    },
    {
      "width": 602, "height": 125,
      "layer": [
        {"data": {"name": "legend"},
         "mark": {"type": "rule"},
         "encoding": {
           "x": {"field": "t0", "type": "quantitative", "scale": {"domain": [0.8, 27.7], "nice": false, "zero": false}, "axis": null},
           "x2": {"field": "t1"},
           "y": {"field": "label", "type": "ordinal", "sort": null, "scale": {"type": "point", "padding": 0.285, "domain": ["diffuse or generalized expression", "labeling of postmitotic neuronal populations", "labeling of fibres", "midline raphe labeling"]}, "axis": null},
           "strokeDash": {"field": "style", "type": "nominal", "scale": {"domain": ["diffuse", "postmitotic", "fibres", "raphe"], "range": [[6, 4], [1, 0], [11, 13], [21, 25]]}, "legend": null},
           "strokeWidth": {"field": "style", "type": "ordinal", "scale": {"domain": ["diffuse", "postmitotic", "fibres", "raphe"], "range": [2.4, 2.6, 1.4, 2.8]}, "legend": null},
           "color": {"field": "style", "type": "nominal", "scale": {"domain": ["diffuse", "postmitotic", "fibres", "raphe"], "range": ["#111", "#111", "#444", "#111"]}, "legend": null}}},
        {"data": {"name": "legend"},
         "mark": {"type": "text", "fontSize": 20, "align": "left", "baseline": "middle"},
         "encoding": {
           "x": {"datum": 8.84, "type": "quantitative", "scale": {"domain": [0.8, 27.7], "nice": false, "zero": false}, "axis": null},
           "y": {"field": "label", "type": "ordinal", "sort": null, "scale": {"type": "point", "padding": 0.285, "domain": ["diffuse or generalized expression", "labeling of postmitotic neuronal populations", "labeling of fibres", "midline raphe labeling"]}, "axis": null},
           "text": {"field": "label"}}}
      ]
    }
  ]
}
